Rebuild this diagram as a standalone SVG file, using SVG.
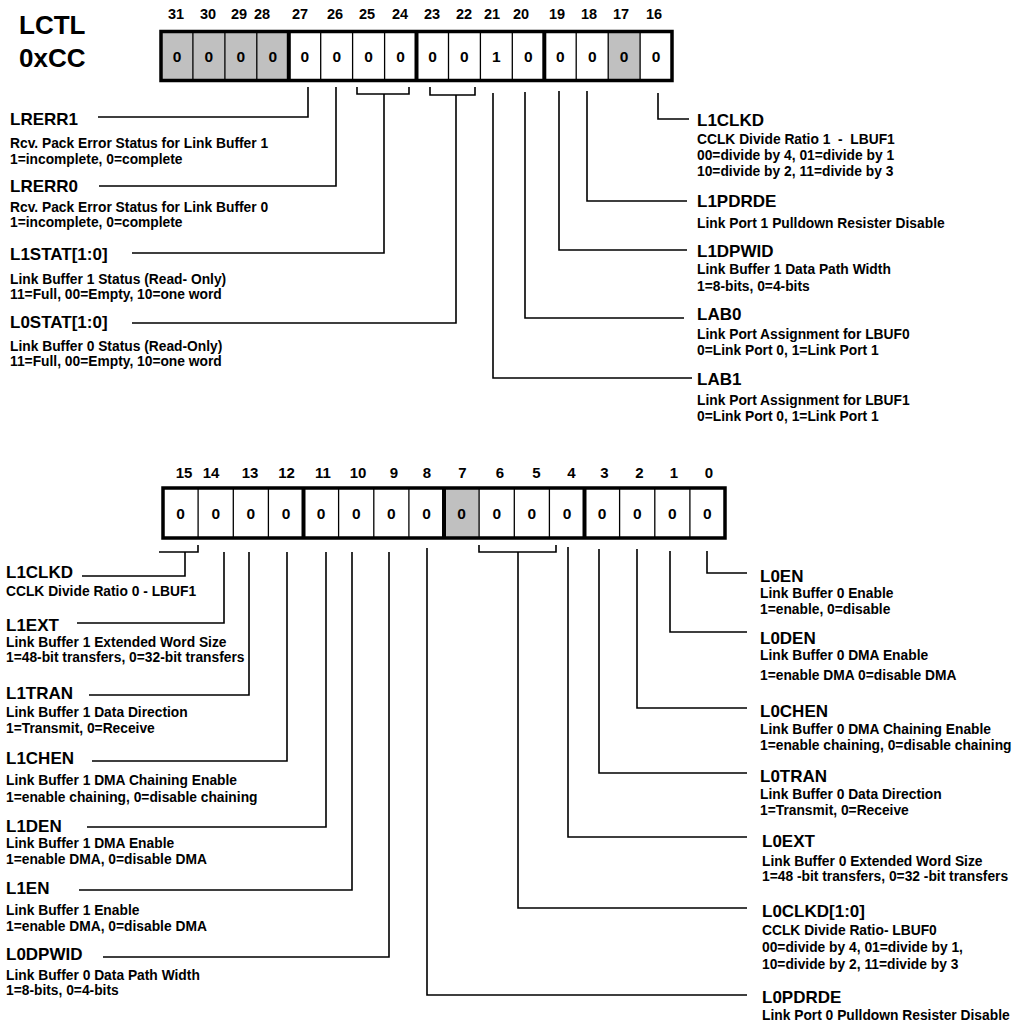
<svg xmlns="http://www.w3.org/2000/svg" width="1020" height="1026" viewBox="0 0 1020 1026">
<style>
text{font-family:"Liberation Sans",Arial,sans-serif;font-weight:bold;fill:#000}
.title{font-size:26px}
.bit{font-size:14.5px;text-anchor:middle}
.bitb{font-size:15px;text-anchor:middle}
.val{font-size:15.5px;text-anchor:middle}
.name{font-size:17px}
.desc{font-size:13.8px}
.box{fill:none;stroke:#000;stroke-width:3.5}
.thin{stroke:#000;stroke-width:1.3}
.thick{stroke:#000;stroke-width:4}
.gray{fill:#c0c0c0}
#connectors path{fill:none;stroke:#000;stroke-width:1.6}
</style>
<rect width="1020" height="1026" fill="#fff"/>
<g id="title">
<text class="title" x="19" y="34">LCTL</text>
<text class="title" x="19" y="67">0xCC</text>
</g>
<g id="register-high">
<rect class="gray" x="161" y="31.5" width="127.8" height="49"/>
<rect class="gray" x="608.2" y="31.5" width="32" height="49"/>
<g class="thin">
<line x1="192.9" y1="31" x2="192.9" y2="81"/><line x1="224.9" y1="31" x2="224.9" y2="81"/><line x1="256.8" y1="31" x2="256.8" y2="81"/>
<line x1="320.7" y1="31" x2="320.7" y2="81"/><line x1="352.6" y1="31" x2="352.6" y2="81"/><line x1="384.6" y1="31" x2="384.6" y2="81"/>
<line x1="448.5" y1="31" x2="448.5" y2="81"/><line x1="480.4" y1="31" x2="480.4" y2="81"/><line x1="512.3" y1="31" x2="512.3" y2="81"/>
<line x1="576.2" y1="31" x2="576.2" y2="81"/><line x1="608.2" y1="31" x2="608.2" y2="81"/><line x1="640.1" y1="31" x2="640.1" y2="81"/>
</g>
<g class="thick">
<line x1="288.8" y1="31" x2="288.8" y2="81"/><line x1="416.5" y1="31" x2="416.5" y2="81"/><line x1="544.3" y1="31" x2="544.3" y2="81"/>
</g>
<rect class="box" x="161" y="31.5" width="511" height="49"/>
<g class="bit">
<text x="176" y="19">31</text><text x="208" y="19">30</text><text x="239" y="19">29</text><text x="262" y="19">28</text>
<text x="300" y="19">27</text><text x="335" y="19">26</text><text x="367" y="19">25</text><text x="400" y="19">24</text>
<text x="432" y="19">23</text><text x="464" y="19">22</text><text x="492" y="19">21</text><text x="521" y="19">20</text>
<text x="557" y="19">19</text><text x="589" y="19">18</text><text x="621" y="19">17</text><text x="654" y="19">16</text>
</g>
<g class="val">
<text x="177" y="62">0</text><text x="208.9" y="62">0</text><text x="240.9" y="62">0</text><text x="272.8" y="62">0</text>
<text x="304.7" y="62">0</text><text x="336.7" y="62">0</text><text x="368.6" y="62">0</text><text x="400.6" y="62">0</text>
<text x="432.5" y="62">0</text><text x="464.4" y="62">0</text><text x="496.4" y="62">1</text><text x="528.3" y="62">0</text>
<text x="560.3" y="62">0</text><text x="592.2" y="62">0</text><text x="624.1" y="62">0</text><text x="656.1" y="62">0</text>
</g>
</g>
<g id="register-low">
<rect class="gray" x="444" y="488" width="35.1" height="50"/>
<g class="thin">
<line x1="198.1" y1="488" x2="198.1" y2="538"/><line x1="233.3" y1="488" x2="233.3" y2="538"/><line x1="268.4" y1="488" x2="268.4" y2="538"/>
<line x1="338.6" y1="488" x2="338.6" y2="538"/><line x1="373.8" y1="488" x2="373.8" y2="538"/><line x1="408.9" y1="488" x2="408.9" y2="538"/>
<line x1="479.1" y1="488" x2="479.1" y2="538"/><line x1="514.3" y1="488" x2="514.3" y2="538"/><line x1="549.4" y1="488" x2="549.4" y2="538"/>
<line x1="619.6" y1="488" x2="619.6" y2="538"/><line x1="654.8" y1="488" x2="654.8" y2="538"/><line x1="689.9" y1="488" x2="689.9" y2="538"/>
</g>
<g class="thick">
<line x1="303.5" y1="488" x2="303.5" y2="538"/><line x1="444" y1="488" x2="444" y2="538"/><line x1="584.5" y1="488" x2="584.5" y2="538"/>
</g>
<rect class="box" x="163" y="488" width="562" height="50"/>
<g class="bitb">
<text x="184" y="478">15</text><text x="211" y="478">14</text><text x="250" y="478">13</text><text x="286.5" y="478">12</text>
<text x="323" y="478">11</text><text x="358" y="478">10</text><text x="394" y="478">9</text><text x="427" y="478">8</text>
<text x="462.5" y="478">7</text><text x="500" y="478">6</text><text x="536.5" y="478">5</text><text x="571.5" y="478">4</text>
<text x="604.5" y="478">3</text><text x="639.5" y="478">2</text><text x="674" y="478">1</text><text x="709" y="478">0</text>
</g>
<g class="val">
<text x="180.6" y="518.5">0</text><text x="215.7" y="518.5">0</text><text x="250.8" y="518.5">0</text><text x="286" y="518.5">0</text>
<text x="321.1" y="518.5">0</text><text x="356.2" y="518.5">0</text><text x="391.3" y="518.5">0</text><text x="426.5" y="518.5">0</text>
<text x="461.6" y="518.5">0</text><text x="496.7" y="518.5">0</text><text x="531.8" y="518.5">0</text><text x="567" y="518.5">0</text>
<text x="602.1" y="518.5">0</text><text x="637.2" y="518.5">0</text><text x="672.3" y="518.5">0</text><text x="707.4" y="518.5">0</text>
</g>
</g>
<g id="connectors">
<path d="M308,87 V117 H98"/>
<path d="M336,87 V186 H99"/>
<path d="M357,87 V94 H409 V87 M384,94 V253 H132"/>
<path d="M430,87 V95 H475 V87 M456,95 V323 H132"/>
<path d="M493,93 V378 H692"/>
<path d="M525,92 V318 H684"/>
<path d="M559,91 V250 H687"/>
<path d="M587,91 V201 H687"/>
<path d="M658,93 V119 H689"/>
<path d="M159,552 H198 V545 M185,552 V576 H82"/>
<path d="M224,552 V623 H77"/>
<path d="M249,552 V695 H89"/>
<path d="M287,552 V761 H92"/>
<path d="M326,552 V827 H87"/>
<path d="M352,552 V890 H79"/>
<path d="M389,552 V957 H103"/>
<path d="M427,548 V995 H747"/>
<path d="M479,545 V552 H556 V545 M518,552 V908 H747"/>
<path d="M568,547 V837 H747"/>
<path d="M599,549 V773 H747"/>
<path d="M637,549 V708 H747"/>
<path d="M670,551 V632 H747"/>
<path d="M707,551 V573 H747"/>
</g>
<g id="LRERR1"><text class="name" x="10" y="125">LRERR1</text><text class="desc" x="10" y="148">Rcv. Pack Error Status for Link Buffer 1</text><text class="desc" x="10" y="163.5">1=incomplete, 0=complete</text></g>
<g id="LRERR0"><text class="name" x="10" y="192">LRERR0</text><text class="desc" x="10" y="212">Rcv. Pack Error Status for Link Buffer 0</text><text class="desc" x="10" y="227">1=incomplete, 0=complete</text></g>
<g id="L1STAT"><text class="name" x="10" y="260">L1STAT[1:0]</text><text class="desc" x="10" y="284">Link Buffer 1 Status (Read- Only)</text><text class="desc" x="10" y="299">11=Full, 00=Empty, 10=one word</text></g>
<g id="L0STAT"><text class="name" x="10" y="328">L0STAT[1:0]</text><text class="desc" x="10" y="351">Link Buffer 0 Status (Read-Only)</text><text class="desc" x="10" y="366">11=Full, 00=Empty, 10=one word</text></g>
<g id="L1CLKD-hi"><text class="name" x="697" y="126">L1CLKD</text><text class="desc" x="697" y="144" style="white-space:pre">CCLK Divide Ratio 1  -  LBUF1</text><text class="desc" x="697" y="160">00=divide by 4, 01=divide by 1</text><text class="desc" x="697" y="176">10=divide by 2, 11=divide by 3</text></g>
<g id="L1PDRDE"><text class="name" x="697" y="207">L1PDRDE</text><text class="desc" x="697" y="228">Link Port 1 Pulldown Resister Disable</text></g>
<g id="L1DPWID"><text class="name" x="697" y="257">L1DPWID</text><text class="desc" x="697" y="274">Link Buffer 1 Data Path Width</text><text class="desc" x="697" y="290.5">1=8-bits, 0=4-bits</text></g>
<g id="LAB0"><text class="name" x="697" y="320">LAB0</text><text class="desc" x="697" y="339">Link Port Assignment for LBUF0</text><text class="desc" x="697" y="355">0=Link Port 0, 1=Link Port 1</text></g>
<g id="LAB1"><text class="name" x="697" y="385">LAB1</text><text class="desc" x="697" y="405">Link Port Assignment for LBUF1</text><text class="desc" x="697" y="420.5">0=Link Port 0, 1=Link Port 1</text></g>
<g id="L1CLKD-lo"><text class="name" x="6" y="578">L1CLKD</text><text class="desc" x="6" y="596">CCLK Divide Ratio 0 - LBUF1</text></g>
<g id="L1EXT"><text class="name" x="6" y="631">L1EXT</text><text class="desc" x="6" y="647">Link Buffer 1 Extended Word Size</text><text class="desc" x="6" y="662">1=48-bit transfers, 0=32-bit transfers</text></g>
<g id="L1TRAN"><text class="name" x="6" y="699">L1TRAN</text><text class="desc" x="6" y="717">Link Buffer 1 Data Direction</text><text class="desc" x="6" y="733">1=Transmit, 0=Receive</text></g>
<g id="L1CHEN"><text class="name" x="6" y="764">L1CHEN</text><text class="desc" x="6" y="785">Link Buffer 1 DMA Chaining Enable</text><text class="desc" x="6" y="801.5">1=enable chaining, 0=disable chaining</text></g>
<g id="L1DEN"><text class="name" x="6" y="831.5">L1DEN</text><text class="desc" x="6" y="847.5">Link Buffer 1 DMA Enable</text><text class="desc" x="6" y="863.5">1=enable DMA, 0=disable DMA</text></g>
<g id="L1EN"><text class="name" x="6" y="893.5">L1EN</text><text class="desc" x="6" y="915">Link Buffer 1 Enable</text><text class="desc" x="6" y="931">1=enable DMA, 0=disable DMA</text></g>
<g id="L0DPWID"><text class="name" x="6" y="959.5">L0DPWID</text><text class="desc" x="6" y="979.5">Link Buffer 0 Data Path Width</text><text class="desc" x="6" y="995">1=8-bits, 0=4-bits</text></g>
<g id="L0EN"><text class="name" x="760" y="582">L0EN</text><text class="desc" x="760" y="597.5">Link Buffer 0 Enable</text><text class="desc" x="760" y="613.5">1=enable, 0=disable</text></g>
<g id="L0DEN"><text class="name" x="760" y="643.5">L0DEN</text><text class="desc" x="760" y="660">Link Buffer 0 DMA Enable</text><text class="desc" x="760" y="679.5">1=enable DMA 0=disable DMA</text></g>
<g id="L0CHEN"><text class="name" x="760" y="717">L0CHEN</text><text class="desc" x="760" y="733.5">Link Buffer 0 DMA Chaining Enable</text><text class="desc" x="760" y="750">1=enable chaining, 0=disable chaining</text></g>
<g id="L0TRAN"><text class="name" x="760" y="782">L0TRAN</text><text class="desc" x="760" y="798.5">Link Buffer 0 Data Direction</text><text class="desc" x="760" y="815">1=Transmit, 0=Receive</text></g>
<g id="L0EXT"><text class="name" x="762" y="847">L0EXT</text><text class="desc" x="762" y="866">Link Buffer 0 Extended Word Size</text><text class="desc" x="762" y="881">1=48 -bit transfers, 0=32 -bit transfers</text></g>
<g id="L0CLKD"><text class="name" x="762" y="917">L0CLKD[1:0]</text><text class="desc" x="762" y="935">CCLK Divide Ratio- LBUF0</text><text class="desc" x="762" y="952">00=divide by 4, 01=divide by 1,</text><text class="desc" x="762" y="968.5">10=divide by 2, 11=divide by 3</text></g>
<g id="L0PDRDE"><text class="name" x="762" y="1003">L0PDRDE</text><text class="desc" x="762" y="1020">Link Port 0 Pulldown Resister Disable</text></g>
</svg>
